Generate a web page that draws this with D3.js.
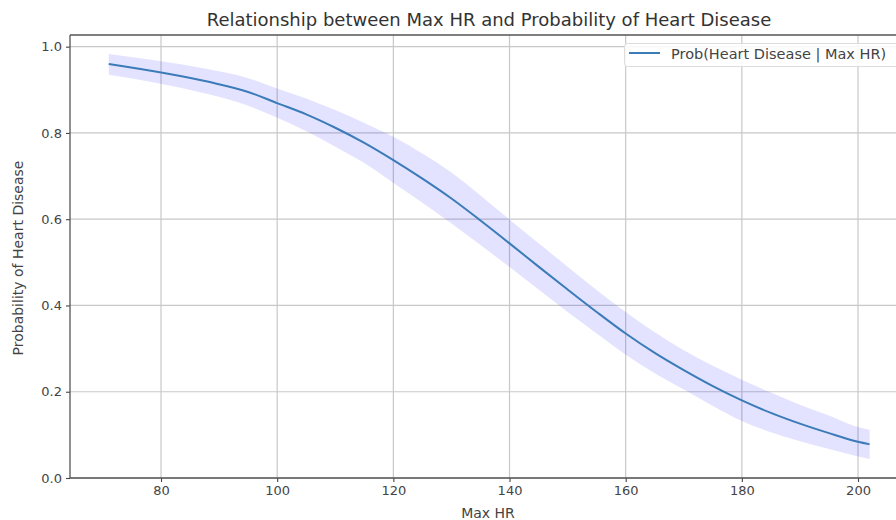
<!DOCTYPE html>
<html>
<head>
<meta charset="utf-8">
<script src="https://cdn.jsdelivr.net/npm/d3@7"></script>
<style>
  html, body { margin: 0; padding: 0; background: #fff; }
  svg { display: block; font-family: "DejaVu Sans", sans-serif; }
</style>
</head>
<body>
<svg id="chart" width="896" height="520"></svg>
<script>
// Max heart rate values (sorted) at which the fitted model was evaluated
const maxHR = [71, 88, 95, 100, 105, 110, 115, 120, 125, 130, 135, 140, 145,
               150, 155, 160, 165, 170, 175, 180, 185, 190, 195, 200, 202];
// Predicted probability of heart disease
const prob = [0.960, 0.919, 0.895, 0.869, 0.843, 0.812, 0.777, 0.737, 0.694, 0.648,
              0.597, 0.544, 0.490, 0.437, 0.385, 0.335, 0.290, 0.250, 0.213, 0.180,
              0.151, 0.126, 0.104, 0.084, 0.078];
// Confidence band
const lower = [0.935, 0.890, 0.863, 0.835, 0.804, 0.768, 0.730, 0.684, 0.638, 0.590,
               0.540, 0.489, 0.437, 0.385, 0.335, 0.286, 0.243, 0.205, 0.167, 0.132,
               0.106, 0.085, 0.067, 0.050, 0.044];
const upper = [0.983, 0.948, 0.927, 0.903, 0.880, 0.853, 0.823, 0.791, 0.752, 0.708,
               0.655, 0.599, 0.544, 0.490, 0.436, 0.385, 0.338, 0.296, 0.260, 0.228,
               0.198, 0.170, 0.145, 0.118, 0.112];

const xTicks = [80, 100, 120, 140, 160, 180, 200];
const yTicks = [0.0, 0.2, 0.4, 0.6, 0.8, 1.0];

const titleText = "Relationship between Max HR and Probability of Heart Disease";
const xLabel = "Max HR";
const yLabel = "Probability of Heart Disease";
const legendLabel = "Prob(Heart Disease | Max HR)";

const rows = maxHR.map((x, i) => ({ x, p: prob[i], lo: lower[i], hi: upper[i] }));

const svg = d3.select("#chart");
const plot = { left: 70, right: 910, top: 35, bottom: 478 };

const x = d3.scaleLinear().domain([64.33, 208.95]).range([plot.left, plot.right]);
const y = d3.scaleLinear().domain([0, 1.027]).range([plot.bottom, plot.top]);

// grid
const grid = svg.append("g").attr("stroke", "#c8c8c8").attr("stroke-width", 1.2);
grid.selectAll("line.vx").data(xTicks).join("line")
  .attr("x1", d => x(d)).attr("x2", d => x(d))
  .attr("y1", plot.top).attr("y2", plot.bottom);
grid.selectAll("line.hy").data(yTicks).join("line")
  .attr("x1", plot.left).attr("x2", plot.right)
  .attr("y1", d => y(d)).attr("y2", d => y(d));

// confidence band
svg.append("path").datum(rows)
  .attr("fill", "#0000ff").attr("fill-opacity", 0.11)
  .attr("d", d3.area().curve(d3.curveMonotoneX)
    .x(d => x(d.x)).y0(d => y(d.lo)).y1(d => y(d.hi)));

// probability curve
svg.append("path").datum(rows)
  .attr("fill", "none").attr("stroke", "#3b7bb8").attr("stroke-width", 2)
  .attr("d", d3.line().curve(d3.curveMonotoneX).x(d => x(d.x)).y(d => y(d.p)));

// axes
const xAxis = d3.axisBottom(x).tickValues(xTicks).tickFormat(d3.format("d"))
  .tickSize(4).tickPadding(4);
const yAxis = d3.axisLeft(y).tickValues(yTicks).tickFormat(d3.format(".1f"))
  .tickSize(4).tickPadding(4);

const gx = svg.append("g").attr("transform", `translate(0,${plot.bottom})`).call(xAxis);
const gy = svg.append("g").attr("transform", `translate(${plot.left},0)`).call(yAxis);
[gx, gy].forEach(g => {
  g.select(".domain").remove();
  g.selectAll(".tick line").attr("stroke", "#444").attr("stroke-width", 1.1);
  g.selectAll(".tick text").attr("fill", "#444").attr("font-size", 13)
    .attr("font-family", "DejaVu Sans, sans-serif");
});

// spines
const spines = svg.append("g").attr("stroke", "#555").attr("stroke-width", 1.3).attr("fill", "none");
spines.append("line").attr("x1", plot.left).attr("x2", plot.left).attr("y1", plot.top).attr("y2", plot.bottom);
spines.append("line").attr("x1", plot.left).attr("x2", plot.right).attr("y1", plot.bottom).attr("y2", plot.bottom);
spines.append("line").attr("x1", plot.left).attr("x2", plot.right).attr("y1", plot.top).attr("y2", plot.top);

// title and axis labels
svg.append("text").attr("x", 489).attr("y", 26).attr("text-anchor", "middle")
  .attr("font-size", 18).attr("fill", "#333").text(titleText);
svg.append("text").attr("x", 488).attr("y", 518).attr("text-anchor", "middle")
  .attr("font-size", 14).attr("fill", "#444").text(xLabel);
svg.append("text").attr("transform", "translate(23,258) rotate(-90)").attr("text-anchor", "middle")
  .attr("font-size", 14).attr("fill", "#444").text(yLabel);

// legend
const lg = svg.append("g");
lg.append("rect").attr("x", 624.5).attr("y", 43.5).attr("width", 290).attr("height", 23)
  .attr("rx", 3).attr("fill", "#fff").attr("fill-opacity", 0.85)
  .attr("stroke", "#ddd").attr("stroke-width", 1);
lg.append("line").attr("x1", 629).attr("x2", 660).attr("y1", 53).attr("y2", 53)
  .attr("stroke", "#3b7bb8").attr("stroke-width", 2);
lg.append("text").attr("x", 671).attr("y", 58.5).attr("font-size", 14.5).attr("fill", "#444")
  .text(legendLabel);
</script>
</body>
</html>
